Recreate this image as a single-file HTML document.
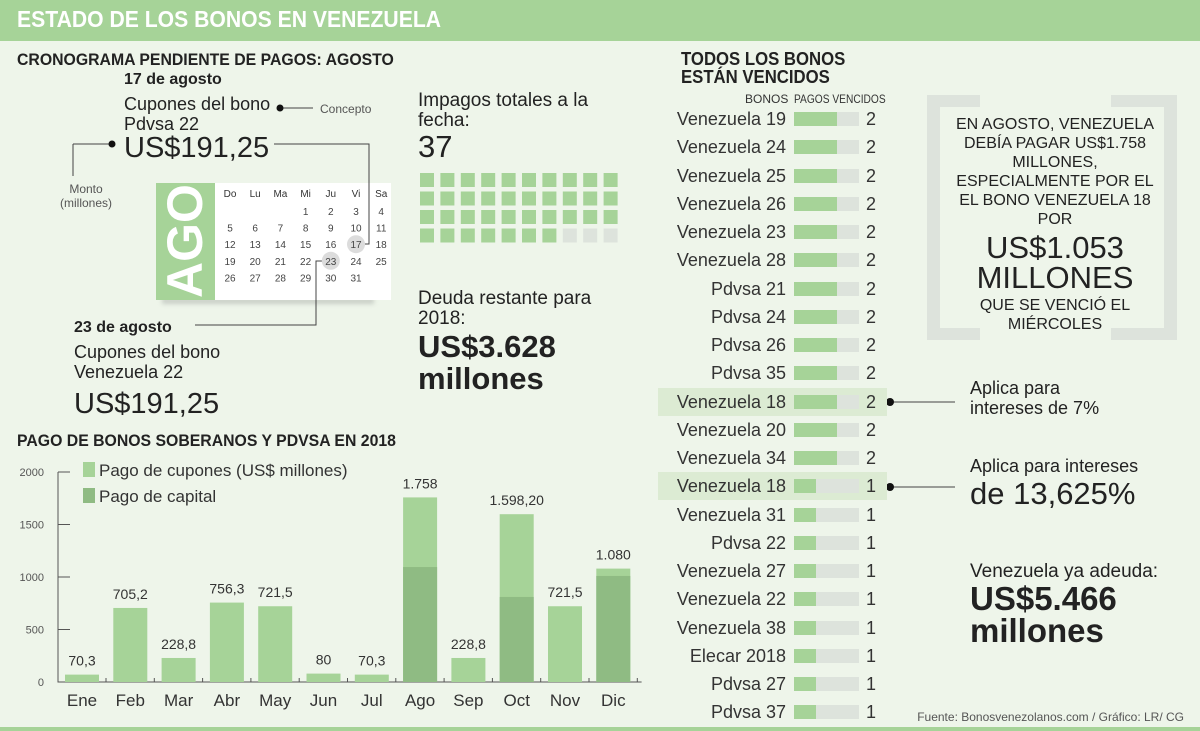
<!DOCTYPE html>
<html><head><meta charset="utf-8">
<style>
*{margin:0;padding:0;box-sizing:border-box}
body{width:1200px;height:731px;background:#eef5ea;position:relative;overflow:hidden;font-family:"Liberation Sans Narrow","Liberation Sans",sans-serif;color:#222}
.a{position:absolute;white-space:nowrap;line-height:1}
.b{font-weight:bold}
.sx{transform:scaleX(0.93);transform-origin:0 0}
svg{position:absolute;left:0;top:0}
</style></head><body>
<div class="a" style="left:0;top:0;width:1200px;height:38px;background:#a6d398"></div>
<div class="a" style="left:0;top:38px;width:1200px;height:3px;background:#a6d398"></div>
<div class="a b sx" style="left:17px;top:8px;font-size:23px;color:#fff;transform:scaleX(0.92)">ESTADO DE LOS BONOS EN VENEZUELA</div>
<div class="a" style="left:0;top:727px;width:1200px;height:4px;background:#a6d398"></div>

<div class="a b sx" style="left:17px;top:51px;font-size:17px">CRONOGRAMA PENDIENTE DE PAGOS: AGOSTO</div>
<div class="a b" style="left:124px;top:72px;font-size:16px">17 de agosto</div>
<div class="a" style="left:124px;top:94px;font-size:18px;line-height:20px;white-space:normal;width:170px">Cupones del bono Pdvsa 22</div>
<div class="a" style="left:124px;top:134px;font-size:29px">US$191,25</div>
<div class="a" style="left:320px;top:103px;font-size:12px;color:#555">Concepto</div>
<div class="a" style="left:60px;top:182px;font-size:12px;color:#555;text-align:center;line-height:14px">Monto<br>(millones)</div>

<div class="a" style="left:162px;top:298px;width:212px;height:6px;background:#c9cfc7;filter:blur(2px)"></div>
<div class="a" style="left:156px;top:183px;width:235px;height:117px;background:#fff"></div>
<div class="a" style="left:156px;top:183px;width:59px;height:117px;background:#a6d398"></div>
<div class="a b" style="left:185px;top:241px;font-size:50px;color:#fff;font-family:'Liberation Sans',sans-serif;transform:translate(-50%,-50%) rotate(-90deg)">AGO</div>

<svg width="1200" height="731" id="main">
<g stroke="#444" fill="none" stroke-width="1">
<line x1="73" y1="144" x2="112" y2="144"/><line x1="73" y1="144" x2="73" y2="176"/>
<line x1="280" y1="108" x2="313" y2="108"/>
<polyline points="274,144 369,144 369,244 362,244"/>
<polyline points="195,325 316,325 316,261 322,261"/>
<line x1="890" y1="402" x2="955" y2="402"/>
<line x1="890" y1="487" x2="955" y2="487"/>
</g>
<g fill="#111"><circle cx="112" cy="144" r="3.5"/><circle cx="280" cy="108" r="3.5"/><circle cx="890" cy="402" r="4"/><circle cx="890" cy="487" r="4"/></g>
<g fill="#dde3dc">
<rect x="927" y="95" width="13" height="245"/><rect x="927" y="95" width="53" height="12"/><rect x="927" y="328" width="53" height="12"/>
<rect x="1164" y="95" width="13" height="245"/><rect x="1111" y="95" width="66" height="12"/><rect x="1111" y="328" width="66" height="12"/>
</g>
</svg>

<div class="a" style="left:418px;top:91px;font-size:19px;line-height:20px">Impagos totales a la<br>fecha:</div>
<div class="a" style="left:418px;top:131px;font-size:31px">37</div>
<div class="a" style="left:418px;top:289px;font-size:19px;line-height:20px">Deuda restante para<br>2018:</div>
<div class="a b" style="left:418px;top:331px;font-size:31px;line-height:32px;font-family:'Liberation Sans',sans-serif">US$3.628<br>millones</div>

<div class="a b" style="left:74px;top:320px;font-size:16px">23 de agosto</div>
<div class="a" style="left:74px;top:342px;font-size:18px;line-height:20px">Cupones del bono<br>Venezuela 22</div>
<div class="a" style="left:74px;top:390px;font-size:29px">US$191,25</div>

<div class="a b sx" style="left:17px;top:432px;font-size:17px">PAGO DE BONOS SOBERANOS Y PDVSA EN 2018</div>
<svg width="1200" height="731" id="chart"></svg>

<div class="a b sx" style="left:681px;top:50px;font-size:18px;line-height:18px">TODOS LOS BONOS<br>ESTÁN VENCIDOS</div>
<div class="a" style="left:745px;top:93px;font-size:12px;color:#333">BONOS</div>
<div class="a" style="left:794px;top:93px;font-size:12px;color:#333;transform:scaleX(0.85);transform-origin:0 0">PAGOS VENCIDOS</div>
<div id="bonds"></div>

<div class="a" style="left:955px;top:115px;width:200px;text-align:center;font-size:16px;line-height:19px;white-space:normal">EN AGOSTO, VENEZUELA DEBÍA PAGAR US$1.758 MILLONES, ESPECIALMENTE POR EL EL BONO VENEZUELA 18 POR</div>
<div class="a" style="left:955px;top:233px;width:200px;text-align:center;font-size:31px;line-height:30px">US$1.053<br>MILLONES</div>
<div class="a" style="left:955px;top:296px;width:200px;text-align:center;font-size:16px;line-height:19px">QUE SE VENCIÓ EL<br>MIÉRCOLES</div>

<div class="a" style="left:970px;top:378px;font-size:18px;line-height:20px">Aplica para<br>intereses de 7%</div>
<div class="a" style="left:970px;top:457px;font-size:18px">Aplica para intereses</div>
<div class="a" style="left:970px;top:478px;font-size:31px">de 13,625%</div>
<div class="a" style="left:970px;top:562px;font-size:19px">Venezuela ya adeuda:</div>
<div class="a b" style="left:970px;top:583px;font-size:33px;line-height:32px;font-family:'Liberation Sans',sans-serif">US$5.466<br>millones</div>
<div class="a" style="right:16px;top:711px;font-size:12px;color:#555">Fuente: Bonosvenezolanos.com / Gráfico: LR/ CG</div>

<script>
const NS='http://www.w3.org/2000/svg';
// calendar
const calHeads=['Do','Lu','Ma','Mi','Ju','Vi','Sa'];
const calDays=[[null,null,null,1,2,3,4],[5,6,7,8,9,10,11],[12,13,14,15,16,17,18],[19,20,21,22,23,24,25],[26,27,28,29,30,31,null]];
const calMarked=[17,23];
// waffle
const impagos=37, waffleTotal=40;
// bar chart
const months=['Ene','Feb','Mar','Abr','May','Jun','Jul','Ago','Sep','Oct','Nov','Dic'];
const totals=[70.3,705.2,228.8,756.3,721.5,80,70.3,1758,228.8,1598.2,721.5,1080];
const capital=[0,0,0,0,0,0,0,1095,0,810,0,1010];
const valueLabels=['70,3','705,2','228,8','756,3','721,5','80','70,3','1.758','228,8','1.598,20','721,5','1.080'];
const yTicks=[0,500,1000,1500,2000];
// bonds
const bondNames=['Venezuela 19','Venezuela 24','Venezuela 25','Venezuela 26','Venezuela 23','Venezuela 28','Pdvsa 21','Pdvsa 24','Pdvsa 26','Pdvsa 35','Venezuela 18','Venezuela 20','Venezuela 34','Venezuela 18','Venezuela 31','Pdvsa 22','Venezuela 27','Venezuela 22','Venezuela 38','Elecar 2018','Pdvsa 27','Pdvsa 37'];
const bondPagos=[2,2,2,2,2,2,2,2,2,2,2,2,2,1,1,1,1,1,1,1,1,1];
const bondHighlight=[10,13];

function mk(p,tag,attrs){const e=document.createElementNS(NS,tag);for(const k in attrs)e.setAttribute(k,attrs[k]);p.appendChild(e);return e;}
const main=document.getElementById('main');
const colX=i=>230+i*25.2, rowY=r=>211+r*16.6;
calDays.forEach((row,r)=>row.forEach((d,i)=>{if(calMarked.includes(d)){const c=mk(main,'circle',{cx:colX(i),cy:rowY(r),r:9,fill:'#dcdcdc'});

}}));
calHeads.forEach((h,i)=>{const t=mk(main,'text',{x:colX(i),y:197,'text-anchor':'middle','font-size':10,fill:'#333'});t.textContent=h;

});
calDays.forEach((row,r)=>row.forEach((d,i)=>{if(d==null)return;const t=mk(main,'text',{x:colX(i),y:rowY(r)+4,'text-anchor':'middle','font-size':10,fill:'#444'});t.textContent=d;

}));
for(let k=0;k<waffleTotal;k++){const c=k%10,r=Math.floor(k/10);const s=mk(main,'rect',{x:420+c*20.4,y:173+r*18.5,width:14,height:14,fill:k<impagos?'#a6d398':'#dde3dc'});

}

// chart
const ch=document.getElementById('chart');
const y0=682, yScale=v=>y0-v*0.105, xL=58, step=48.3, bw=34;
const xC=i=>xL+7+bw/2+i*step;
yTicks.forEach(v=>{const t=mk(ch,'text',{x:44,y:yScale(v)+4,'text-anchor':'end','font-size':11,fill:'#555'});t.textContent=v;


const l=mk(ch,'line',{x1:xL,x2:xL+12,y1:yScale(v),y2:yScale(v),stroke:'#555'});

});
const ax=mk(ch,'path',{d:`M${xL},${yScale(2000)}V${y0}H${xL+12*step+4}`,stroke:'#555',fill:'none'});


months.forEach((m,i)=>{
 const x=xC(i)-bw/2;
 const b=mk(ch,'rect',{x:x,y:yScale(totals[i]),width:bw,height:y0-yScale(totals[i]),fill:'#a6d398'});
 
 
 if(capital[i]>0){const c=mk(ch,'rect',{x:x,y:yScale(capital[i]),width:bw,height:y0-yScale(capital[i]),fill:'#8fbb83'});
 
 }
 const vl=mk(ch,'text',{x:xC(i),y:yScale(totals[i])-9,'text-anchor':'middle','font-size':14,fill:'#333'});vl.textContent=valueLabels[i];
 
 
 const ml=mk(ch,'text',{x:xC(i),y:706,'text-anchor':'middle','font-size':17,fill:'#333'});ml.textContent=m;
 
 
 const tk=mk(ch,'line',{x1:x+bw+7,x2:x+bw+7,y1:y0-4,y2:y0,stroke:'#555'});
 
 
});
[['#a6d398','Pago de cupones (US$ millones)',462],['#8fbb83','Pago de capital',488]].forEach(([c,l,y])=>{
 const r=mk(ch,'rect',{x:83,y:y,width:12,height:15,fill:c});
 
 
 const t=mk(ch,'text',{x:99,y:y+14,'font-size':17,fill:'#333'});t.textContent=l;
 
 
});

// bonds list
const bl=document.getElementById('bonds');
const bx=794,bwid=65,maxP=3;
bondNames.forEach((n,i)=>{
 const cy=119+i*28.25;
 if(bondHighlight.includes(i)){const h=document.createElement('div');h.className='a';h.style.cssText=`left:658px;top:${cy-14}px;width:229px;height:28px;background:#dcebd3`;
 
 bl.appendChild(h);}
 const lab=document.createElement('div');lab.className='a';lab.style.cssText=`right:${1200-786}px;top:${cy-9}px;font-size:18px;color:#333`;lab.textContent=n;
 
 bl.appendChild(lab);
 const tr=document.createElement('div');tr.className='a';tr.style.cssText=`left:${bx}px;top:${cy-7}px;width:${bwid}px;height:14px;background:#dde3dc`;
 
 bl.appendChild(tr);
 const f=document.createElement('div');f.className='a';f.style.cssText=`left:${bx}px;top:${cy-7}px;width:${bondPagos[i]/maxP*bwid}px;height:14px;background:#a6d398`;
 
 bl.appendChild(f);
 const v=document.createElement('div');v.className='a';v.style.cssText=`left:866px;top:${cy-9}px;font-size:18px;color:#333`;v.textContent=bondPagos[i];
 
 bl.appendChild(v);
});
</script>
</body></html>
